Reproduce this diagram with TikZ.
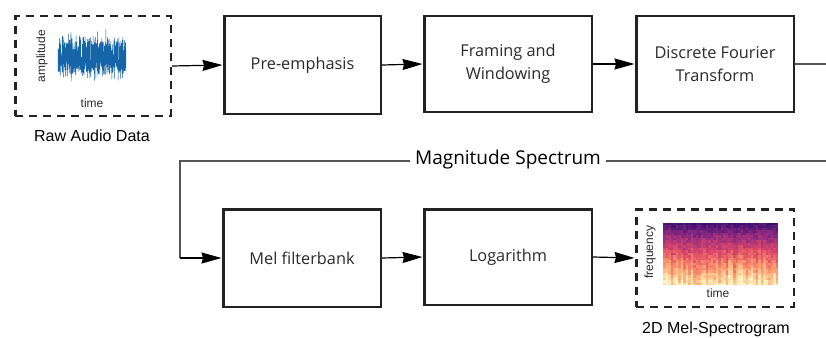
\documentclass[tikz,border=0pt]{standalone}
\usepackage{fontspec}
\setmainfont{Open Sans}
\newfontfamily\arialf{Liberation Sans}
\usetikzlibrary{arrows.meta}
\definecolor{boxline}{HTML}{222222}
\definecolor{txt}{HTML}{2A2A2A}
\definecolor{wave}{HTML}{1565A8}
\definecolor{m0}{HTML}{3B0F70}
\definecolor{m1}{HTML}{8C2981}
\definecolor{m2}{HTML}{DE4968}
\definecolor{m3}{HTML}{FE9F6D}
\definecolor{m4}{HTML}{FCF4C0}
\definecolor{magline}{HTML}{555555}
\tikzset{
  stepbox/.style={draw=boxline, line width=2.5pt, fill=white, text=txt,
    font=\fontsize{16.3}{22.5}\selectfont, align=center, inner sep=0pt},
  dbox/.style={draw=boxline, line width=2.5pt, dash pattern=on 8pt off 6pt, inner sep=0pt},
  conn/.style={draw=black, line width=1.2pt, -{Stealth[length=20pt,width=11pt,inset=1.5pt]}, shorten >=0.5pt},
  lab/.style={font=\arialf\fontsize{16}{18}\selectfont, text=black},
  small/.style={font=\arialf\fontsize{12}{14}\selectfont, text=txt, inner sep=0pt},
}
\begin{document}
\begin{tikzpicture}[x=1pt,y=-1pt]
\useasboundingbox (0,0) rectangle (826,337);
% boxes
\node[dbox, minimum width=155.5pt, minimum height=99.5pt] (raw) at (93,66) {};
\node[stepbox, minimum width=156.5pt, minimum height=97.5pt] (pre) at (302.5,65) {Pre-emphasis};
\node[stepbox, minimum width=167.5pt, minimum height=95.5pt] (fram) at (508,64) {Framing and\\Windowing};
\node[stepbox, minimum width=157.5pt, minimum height=95.5pt] (dft) at (715,64) {Discrete Fourier\\Transform};
\node[stepbox, minimum width=157.5pt, minimum height=97.5pt] (mel) at (302,258) {Mel filterbank};
\node[stepbox, minimum width=167.5pt, minimum height=95.5pt] (log) at (508,257) {Logarithm};
\node[dbox, minimum width=157.5pt, minimum height=97.5pt] (spec) at (715,258) {};
% labels
\node[lab] (rawlab) at (92,136) {Raw Audio Data};
\node[lab] (speclab) at (716,329) {2D Mel-Spectrogram};
% waveform
\pgfmathsetseed{7}
\draw[wave, line width=0.45pt] plot[variable=\t, samples=700, domain=0:1]
  ({58+\t*68}, {57 + rand*(15+17*rnd*rnd)});
\node[small, rotate=90] (amp) at (42,56) {amplitude};
\node[small] (t1) at (92,103) {time};
% spectrogram
\pgfmathsetseed{11}
\foreach \c in {0,...,45}{
  \pgfmathsetmacro\cn{0.22*rnd-0.08}
  \foreach \r in {0,...,24}{
    \pgfmathsetmacro\v{max(0,min(0.999, 0.03+0.9*(\r/24)^0.85 + \cn*(\r/24) + 0.07*rand))}
    \pgfmathtruncatemacro\k{floor(\v*4)}
    \pgfmathtruncatemacro\p{(\v*4-\k)*100}
    \pgfmathtruncatemacro\kk{\k+1}
    \fill[m\kk!\p!m\k] ({663+\c*2.5},{223+\r*2.48}) rectangle ++(2.55,2.53);
  }
}
\node[small, rotate=90] (freq) at (650,252) {frequency};
\node[small] (t2) at (718,293) {time};
% connectors
\draw[conn] (raw.east) -- (pre.west);
\draw[conn] (pre.east) -- (fram.west);
\draw[conn] (fram.east) -- (dft.west);
\coordinate (c1) at (845,64);
\coordinate (c2) at (845,161);
\coordinate (c3) at (180,161);
\draw[line width=1.2pt, magline] (dft.east) -- (c1) -- (c2) -- (c3) -- (c3 |- mel.west);
\draw[conn] (c3 |- mel.west) -- (mel.west);
\node[fill=white, text=black, font=\fontsize{19}{22}\selectfont, inner xsep=5pt, inner ysep=2pt] (mag) at (508,160) {Magnitude Spectrum};
\draw[conn] (mel.east) -- (log.west);
\draw[conn] (log.east) -- (spec.west);
\end{tikzpicture}
\end{document}
